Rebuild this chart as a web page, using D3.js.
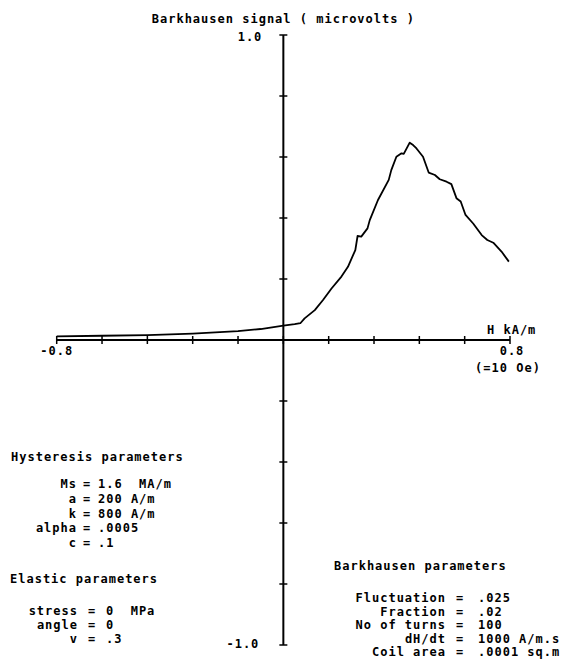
<!DOCTYPE html>
<html>
<head>
<meta charset="utf-8">
<script src="https://cdn.jsdelivr.net/npm/d3@7"></script>
<style>
  body { margin: 0; background: #fff; }
  svg text {
    font-family: "DejaVu Sans Mono", monospace;
    font-weight: bold;
    font-size: 12px;
    letter-spacing: 1px;
    white-space: pre;
    fill: #000;
  }
</style>
</head>
<body>
<svg id="chart"></svg>
<script>
// field H (kA/m) and Barkhausen signal (microvolts)
const fieldH = [
  -0.8, -0.64, -0.48, -0.32, -0.16, -0.08, 0, 0.04, 0.06, 0.075, 0.111, 0.14,
  0.17, 0.205, 0.228, 0.254, 0.262, 0.275, 0.297, 0.305, 0.334, 0.372, 0.381,
  0.399, 0.417, 0.425, 0.446, 0.458, 0.47, 0.493, 0.513, 0.535, 0.552, 0.576,
  0.593, 0.611, 0.626, 0.643, 0.67, 0.7, 0.72, 0.741, 0.77, 0.796,
];
const signal = [
  0.012, 0.014, 0.016, 0.021, 0.029, 0.036, 0.047, 0.052, 0.055, 0.071, 0.098,
  0.131, 0.169, 0.208, 0.24, 0.295, 0.341, 0.339, 0.366, 0.393, 0.459, 0.525,
  0.557, 0.601, 0.612, 0.61, 0.647, 0.639, 0.628, 0.601, 0.549, 0.541, 0.527,
  0.519, 0.511, 0.465, 0.454, 0.41, 0.382, 0.344, 0.328, 0.319, 0.29, 0.257,
];

const xTicks = d3.range(-0.8, 0.8001, 0.16);
const yTicks = d3.range(-1, 1.0001, 0.2);

const hystLabels = ["Ms", "a", "k", "alpha", "c"];
const hystValues = ["1.6  MA/m", "200 A/m", "800 A/m", ".0005", ".1"];
const elasticLabels = ["stress", "angle", "v"];
const elasticValues = ["0  MPa", "0", ".3"];
const barkLabels = ["Fluctuation", "Fraction", "No of turns", "dH/dt", "Coil area"];
const barkValues = [".025", ".02", "100", "1000 A/m.s", ".0001 sq.m"];

const width = 567;
const height = 668;

const svg = d3.select("#chart").attr("width", width).attr("height", height);

const x = d3.scaleLinear().domain([-0.8, 0.8]).range([56.7, 510]);
const y = d3.scaleLinear().domain([-1, 1]).range([645, 35]);

const gAxes = svg.append("g").attr("stroke", "#000").attr("stroke-width", 2);

// axis lines
gAxes.append("line")
  .attr("x1", x(-0.8)).attr("x2", x(0.8))
  .attr("y1", y(0)).attr("y2", y(0));
gAxes.append("line")
  .attr("x1", x(0)).attr("x2", x(0))
  .attr("y1", y(1)).attr("y2", y(-1));

// ticks cross the axis on both sides
gAxes.append("g")
  .selectAll("line")
  .data(xTicks)
  .join("line")
  .attr("x1", (d) => x(d)).attr("x2", (d) => x(d))
  .attr("y1", y(0) - 4).attr("y2", y(0) + 4)
  .attr("stroke-width", 1.5);

gAxes.append("g")
  .selectAll("line")
  .data(yTicks)
  .join("line")
  .attr("x1", x(0) - 4).attr("x2", x(0) + 4)
  .attr("y1", (d) => y(d)).attr("y2", (d) => y(d))
  .attr("stroke-width", 1.5);

// curve
const points = fieldH.map((h, i) => [h, signal[i]]);
svg.append("path")
  .datum(points)
  .attr("fill", "none")
  .attr("stroke", "#000")
  .attr("stroke-width", 1.8)
  .attr("stroke-linejoin", "round")
  .attr("d", d3.line().x((d) => x(d[0])).y((d) => y(d[1])));

// axis texts
const gText = svg.append("g");
gText.append("text")
  .attr("x", x(0)).attr("y", 23)
  .attr("text-anchor", "middle")
  .text("Barkhausen signal ( microvolts )");
gText.append("text")
  .attr("x", x(0) - 21).attr("y", 41)
  .attr("text-anchor", "end")
  .text("1.0");
gText.append("text")
  .attr("x", x(0) - 24).attr("y", 648)
  .attr("text-anchor", "end")
  .text("-1.0");
gText.append("text")
  .attr("x", x(-0.8)).attr("y", 355)
  .attr("text-anchor", "middle")
  .text("-0.8");
gText.append("text")
  .attr("x", x(0.8) + 2).attr("y", 355)
  .attr("text-anchor", "middle")
  .text("0.8");
gText.append("text")
  .attr("x", x(0.8) - 2).attr("y", 372)
  .attr("text-anchor", "middle")
  .text("(=10 Oe)");
gText.append("text")
  .attr("x", 487).attr("y", 334)
  .text("H kA/m");

// parameter blocks: title, then label = value rows
function paramBlock({ title, tx, ty, labels, values, labelX, eqX, valueX, y0, dy }) {
  const g = svg.append("g");
  g.append("text").attr("x", tx).attr("y", ty).text(title);
  const row = g.selectAll("g.row")
    .data(labels.map((l, i) => ({ label: l, value: values[i], i })))
    .join("g")
    .attr("class", "row")
    .attr("transform", (d) => `translate(0,${y0 + d.i * dy})`);
  row.append("text").attr("x", labelX).attr("text-anchor", "end").text((d) => d.label);
  row.append("text").attr("x", eqX).attr("text-anchor", "middle").text("=");
  row.append("text").attr("x", valueX).text((d) => d.value);
}

paramBlock({
  title: "Hysteresis parameters", tx: 11, ty: 461,
  labels: hystLabels, values: hystValues,
  labelX: 77, eqX: 87, valueX: 98, y0: 488, dy: 14.8,
});

paramBlock({
  title: "Elastic parameters", tx: 10, ty: 583,
  labels: elasticLabels, values: elasticValues,
  labelX: 78, eqX: 92, valueX: 106, y0: 615, dy: 14,
});

paramBlock({
  title: "Barkhausen parameters", tx: 334, ty: 570,
  labels: barkLabels, values: barkValues,
  labelX: 446, eqX: 460, valueX: 478, y0: 602, dy: 13.6,
});
</script>
</body>
</html>
